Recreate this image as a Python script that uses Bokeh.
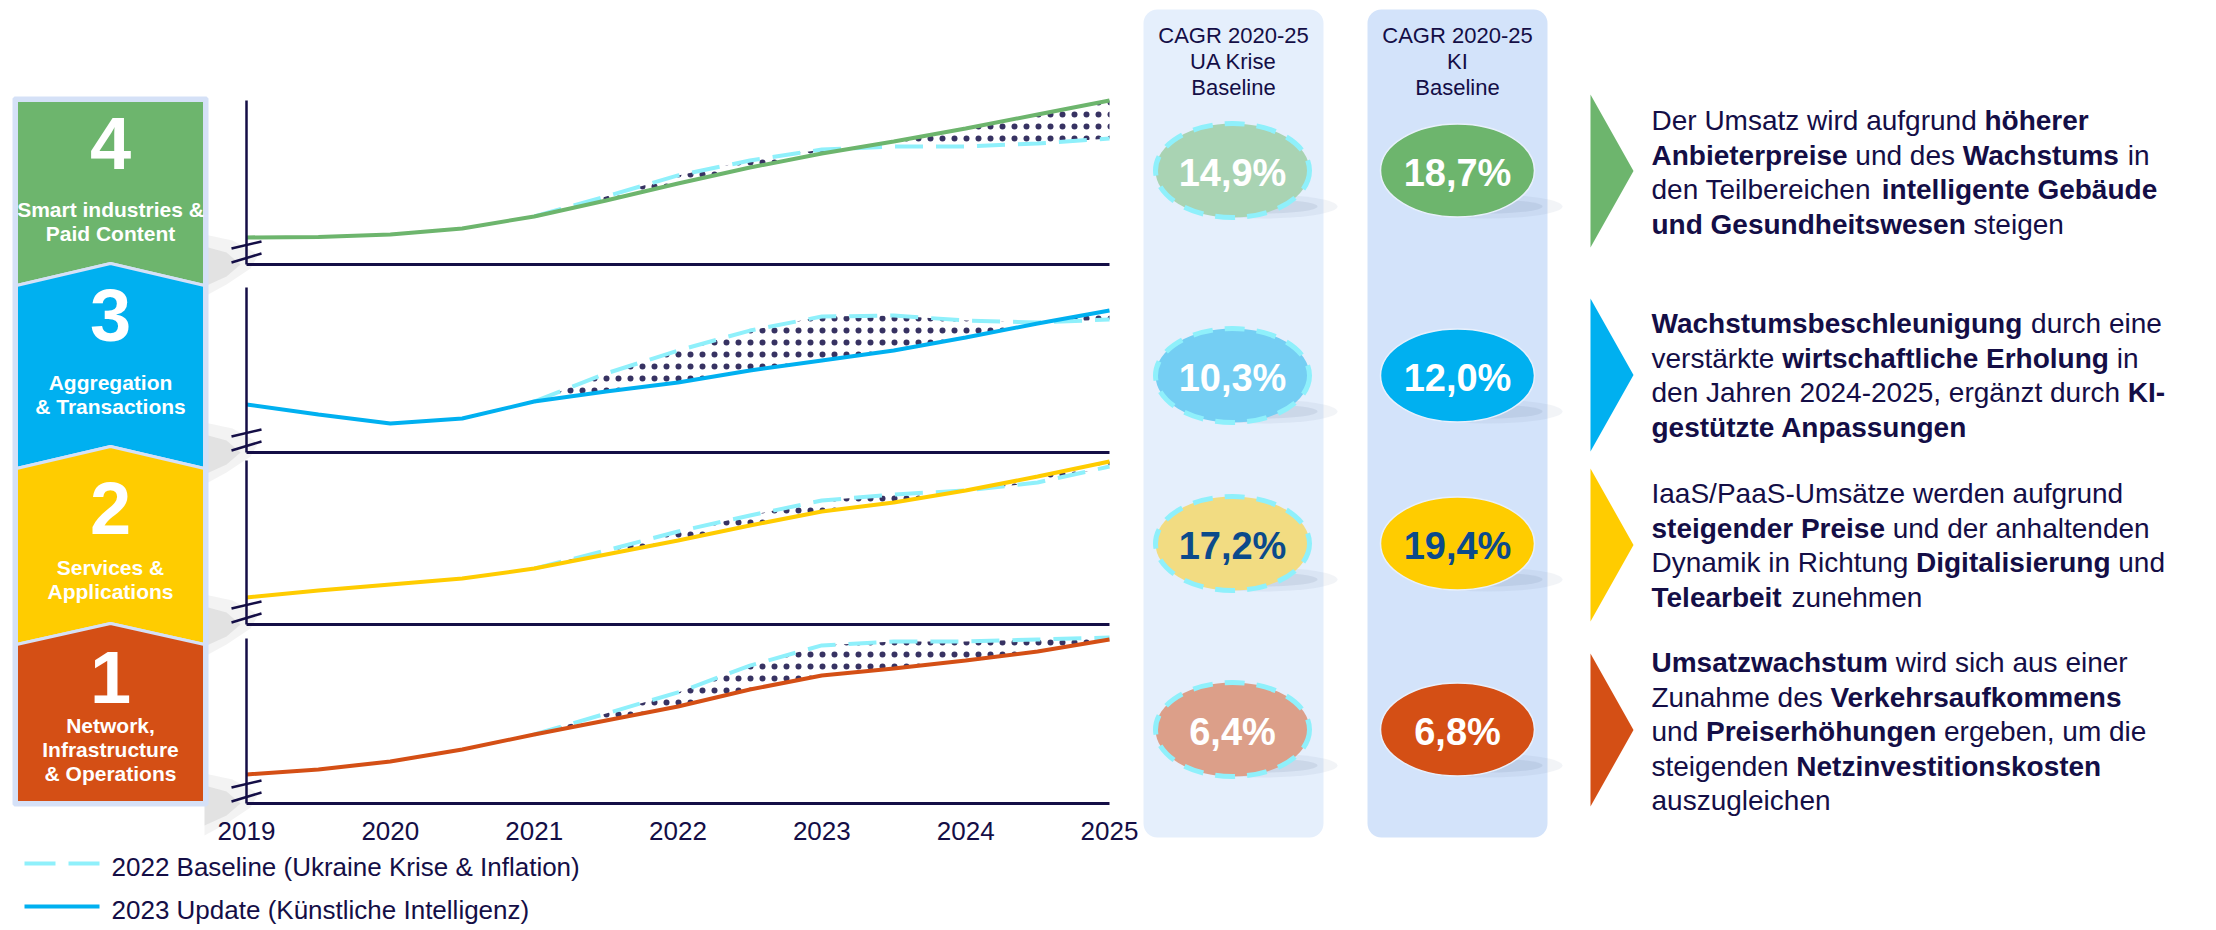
from bokeh.plotting import figure
from bokeh.models import Range1d, ColumnDataSource
from bokeh.core.properties import value
from bokeh.embed import file_html
from bokeh.resources import INLINE

# ---------------- data ----------------
years = [2019, 2019.5, 2020, 2020.5, 2021, 2021.5, 2022, 2022.5, 2023, 2023.5, 2024, 2024.5, 2025]
baseline_years = [2021, 2021.5, 2022, 2022.5, 2023, 2023.5, 2024, 2024.5, 2025]
tick_years = [2019, 2020, 2021, 2022, 2023, 2024, 2025]
tick_labels = ["2019", "2020", "2021", "2022", "2023", "2024", "2025"]

# relative revenue level within each segment panel (0 = panel floor, 100 = panel top)
update_4 = [16.5, 16.8, 18.3, 22.0, 29.3, 39.0, 49.4, 59.1, 67.7, 75.0, 82.9, 91.5, 100.0]
baseline_4 = [29.3, 41.5, 54.3, 63.4, 70.1, 72.0, 72.0, 73.8, 76.8]
update_3 = [29.1, 23.0, 17.6, 20.6, 30.9, 37.0, 42.4, 49.7, 55.8, 61.8, 69.7, 78.2, 86.1]
baseline_3 = [30.9, 47.9, 61.8, 73.9, 82.4, 83.0, 80.0, 78.8, 80.6]
update_2 = [16.5, 20.7, 24.4, 28.0, 34.1, 42.7, 51.2, 60.4, 68.9, 74.4, 81.7, 90.2, 99.4]
baseline_2 = [34.1, 45.1, 56.7, 66.5, 75.6, 79.3, 81.7, 86.6, 96.3]
update_1 = [17.6, 20.6, 25.5, 32.7, 41.8, 50.3, 58.8, 69.1, 77.6, 81.8, 86.7, 92.1, 99.4]
baseline_1 = [41.8, 54.5, 67.3, 83.6, 95.8, 98.2, 98.2, 99.4, 100.6]

segment_numbers = ["4", "3", "2", "1"]
segment_names = [["Smart industries &", "Paid Content"],
                 ["Aggregation", "& Transactions"],
                 ["Services &", "Applications"],
                 ["Network,", "Infrastructure", "& Operations"]]
cagr_ua = ["14,9%", "10,3%", "17,2%", "6,4%"]
cagr_ki = ["18,7%", "12,0%", "19,4%", "6,8%"]
header_ua = ["CAGR 2020-25", "UA Krise", "Baseline"]
header_ki = ["CAGR 2020-25", "KI", "Baseline"]
legend_labels = ["2022 Baseline (Ukraine Krise & Inflation)", "2023 Update (Künstliche Intelligenz)"]

texts = [
    ["Der Umsatz wird aufgrund **höherer**",
     "**Anbieterpreise** und des **Wachstums** in",
     "den Teilbereichen **intelligente Gebäude**",
     "**und Gesundheitswesen** steigen"],
    ["**Wachstumsbeschleunigung** durch eine",
     "verstärkte **wirtschaftliche Erholung** in",
     "den Jahren 2024-2025, ergänzt durch **KI-**",
     "**gestützte Anpassungen**"],
    ["IaaS/PaaS-Umsätze werden aufgrund",
     "**steigender Preise** und der anhaltenden",
     "Dynamik in Richtung **Digitalisierung** und",
     "**Telearbeit** zunehmen"],
    ["**Umsatzwachstum** wird sich aus einer",
     "Zunahme des **Verkehrsaufkommens**",
     "und **Preiserhöhungen** ergeben, um die",
     "steigenden **Netzinvestitionskosten**",
     "auszugleichen"],
]

# ---------------- styles ----------------
FONT = value("Liberation Sans")
NAVY = "#140E46"
CYAN = "#8FF0FB"
COLORS = ["#6DB56D", "#00B0F0", "#FFCC00", "#D44F15"]
LIGHT = ["#A9D3B3", "#74CEF3", "#F2DC82", "#DC9F89"]
NUMCOL = ["white", "white", "#0B4A8B", "white"]
DASH = "28 13"

W, H = 2216, 930
p = figure(width=W, height=H, x_range=Range1d(0, W), y_range=Range1d(H, 0),
           output_backend="svg", toolbar_location=None, x_axis_location=None,
           y_axis_location=None, min_border=0)
p.outline_line_color = None
p.background_fill_color = "white"
p.border_fill_color = "white"
p.xgrid.visible = False
p.ygrid.visible = False
p.grid.grid_line_color = None

# ---- text width helpers (Arial / Liberation Sans metrics) ----
REG = {' ': 278, '%': 889, '&': 667, '(': 333, ')': 333, ',': 278, '-': 333, '.': 278, '/': 278,
       'A': 667, 'B': 667, 'C': 722, 'D': 722, 'E': 667, 'F': 611, 'G': 778, 'H': 722, 'I': 278,
       'J': 500, 'K': 667, 'L': 556, 'M': 833, 'N': 722, 'O': 778, 'P': 667, 'Q': 778, 'R': 722,
       'S': 667, 'T': 611, 'U': 722, 'V': 667, 'W': 944, 'X': 667, 'Y': 667, 'Z': 611,
       'a': 556, 'b': 556, 'c': 500, 'd': 556, 'e': 556, 'f': 278, 'g': 556, 'h': 556, 'i': 222,
       'j': 222, 'k': 500, 'l': 222, 'm': 833, 'n': 556, 'o': 556, 'p': 556, 'q': 556, 'r': 333,
       's': 500, 't': 278, 'u': 556, 'v': 500, 'w': 722, 'x': 500, 'y': 500, 'z': 500,
       'ä': 556, 'ö': 556, 'ü': 556}
BLD = {' ': 278, '%': 889, '&': 722, '(': 333, ')': 333, ',': 278, '-': 333, '.': 278, '/': 278,
       'A': 722, 'B': 722, 'C': 722, 'D': 722, 'E': 667, 'F': 611, 'G': 778, 'H': 722, 'I': 278,
       'J': 556, 'K': 722, 'L': 611, 'M': 833, 'N': 722, 'O': 778, 'P': 667, 'Q': 778, 'R': 722,
       'S': 667, 'T': 611, 'U': 722, 'V': 667, 'W': 944, 'X': 667, 'Y': 667, 'Z': 611,
       'a': 556, 'b': 611, 'c': 556, 'd': 611, 'e': 556, 'f': 333, 'g': 611, 'h': 611, 'i': 278,
       'j': 278, 'k': 556, 'l': 278, 'm': 889, 'n': 611, 'o': 611, 'p': 611, 'q': 611, 'r': 389,
       's': 556, 't': 333, 'u': 611, 'v': 556, 'w': 778, 'x': 556, 'y': 556, 'z': 500,
       'ä': 556, 'ö': 611, 'ü': 611}


def tw(s, size, bold):
    t = BLD if bold else REG
    return sum(t.get(c, 556) for c in s) / 1000.0 * size


# ---------------- CAGR columns ----------------
p.quad(left=[1143, 1367], right=[1323, 1547], top=[9, 9], bottom=[837, 837],
       fill_color=["#E5EFFC", "#D3E3FA"], line_color=None, border_radius=14)
hdr_y = [35, 61, 87]
p.text(x=[1233] * 3, y=hdr_y, text=header_ua, text_font=FONT, text_font_size="22px",
       text_color=NAVY, text_align="center", text_baseline="middle")
p.text(x=[1457] * 3, y=hdr_y, text=header_ki, text_font=FONT, text_font_size="22px",
       text_color=NAVY, text_align="center", text_baseline="middle")

row_y = [170, 375, 543, 729]
for cx in (1232, 1457):
    p.ellipse(x=[cx + 30] * 4, y=[r + 36 for r in row_y], width=150, height=24,
              fill_color="#7F90B0", fill_alpha=0.10, line_color=None)
    p.ellipse(x=[cx + 30] * 4, y=[r + 36 for r in row_y], width=110, height=14,
              fill_color="#7F90B0", fill_alpha=0.16, line_color=None)
p.ellipse(x=[1232] * 4, y=row_y, width=154, height=94, fill_color=LIGHT,
          line_color=CYAN, line_width=5, line_dash="20 12")
p.ellipse(x=[1457] * 4, y=row_y, width=154, height=93, fill_color=COLORS,
          line_color="#E8F0FC", line_width=1.5)
p.text(x=[1232] * 4, y=[r + 2 for r in row_y], text=cagr_ua, text_font=FONT,
       text_font_size="38px", text_font_style="bold", text_color=NUMCOL,
       text_align="center", text_baseline="middle")
p.text(x=[1457] * 4, y=[r + 2 for r in row_y], text=cagr_ki, text_font=FONT,
       text_font_size="38px", text_font_style="bold", text_color=NUMCOL,
       text_align="center", text_baseline="middle")

# ---------------- left segment labels ----------------
L, R, C = 16, 204, 110
bounds = [(100, 100), (285, 263), (468, 446), (644, 623), (802, 802)]  # (side, apex)
xs, ys = [], []
for i in range(4):
    (ts, ta), (bs, ba) = bounds[i], bounds[i + 1]
    xs.append([L, C, R, R, C, L])
    ys.append([ts, ta, ts, bs, ba, bs])
panel_bottoms = [264, 452, 624, 803]
sx, sy, sx2, sy2 = [], [], [], []
for b in panel_bottoms:
    sx.append([204, 232, 258, 250, 226, 204])
    sy.append([b - 30, b - 24, b - 10, b + 4, b + 20, b + 32])
    sx2.append([204, 226, 240, 226, 204])
    sy2.append([b - 18, b - 12, b, b + 12, b + 22])
p.patches(xs=sx, ys=sy, fill_color="#9A9A9A", fill_alpha=0.12, line_color=None)
p.patches(xs=sx2, ys=sy2, fill_color="#8A8A8A", fill_alpha=0.16, line_color=None)
p.quad(left=[L - 2], right=[R + 2], top=[98], bottom=[804], fill_color=None,
       line_color="#D5E1F7", line_width=4)
p.patches(xs=xs, ys=ys, fill_color=COLORS, line_color="#D5E1F7", line_width=3)

num_y = [138, 310, 503, 672]
p.text(x=[C] * 4, y=[v + 4 for v in num_y], text=segment_numbers, text_font=FONT,
       text_font_size="74px", text_font_style="bold", text_color="white",
       text_align="center", text_baseline="middle")
name_y0 = [209, 382, 567, 725]
nx, ny, nt = [], [], []
for names, y0 in zip(segment_names, name_y0):
    for k, nm in enumerate(names):
        nx.append(C)
        ny.append(y0 + k * 24)
        nt.append(nm)
p.text(x=nx, y=ny, text=nt, text_font=FONT, text_font_size="21px", text_font_style="bold",
       text_color="white", text_align="center", text_baseline="middle")

# ---------------- line panels ----------------
panels = [(100, 264, update_4, baseline_4, COLORS[0]),
          (287, 452, update_3, baseline_3, COLORS[1]),
          (460, 624, update_2, baseline_2, COLORS[2]),
          (638, 803, update_1, baseline_1, COLORS[3])]
X0, X1 = 246, 1109
subs = []
for top, bot, upd, base, col in panels:
    sub = p.subplot(x_source=Range1d(2019, 2025), y_source=Range1d(0, 100),
                    x_target=Range1d(X0, X1), y_target=Range1d(bot, top))
    subs.append(sub)
    upd_at_base = [u for yr, u in zip(years, upd) if yr >= baseline_years[0]]
    sub.varea(x=baseline_years, y1=upd_at_base, y2=base, fill_color=None, fill_alpha=0,
              hatch_pattern="dot", hatch_color=NAVY, hatch_scale=12, hatch_weight=0.3,
              hatch_alpha=0.85)
    sub.line(x=baseline_years, y=base, line_color=CYAN, line_width=4, line_dash=DASH)
    sub.line(x=years, y=upd, line_color=col, line_width=4)
    # axes
    sub.line(x=[2019, 2019], y=[0, 100], line_color=NAVY, line_width=2.5)
    sub.line(x=[2019, 2025], y=[0, 0], line_color=NAVY, line_width=3)
    # axis break marks (decoration)
    p.segment(x0=[231, 231], y0=[bot - 16, bot - 2], x1=[261, 261], y1=[bot - 23, bot - 11],
              line_color=NAVY, line_width=2.5)

subs[-1].text(x=tick_years, y=[0] * 7, text=tick_labels, y_offset=27, text_font=FONT,
              text_font_size="26px", text_color=NAVY, text_align="center",
              text_baseline="middle")

# ---------------- legend ----------------
p.line(x=[24, 99], y=[863, 863], line_color=CYAN, line_width=4, line_dash="31 13")
p.line(x=[24, 99], y=[906, 906], line_color=COLORS[1], line_width=4)
p.text(x=[111, 111], y=[866, 909], text=legend_labels, text_font=FONT, text_font_size="26px",
       text_color=NAVY, text_align="left", text_baseline="middle")

# ---------------- right side arrows and texts ----------------
arrow_spans = [(94, 247), (298, 451), (468, 621), (653, 806)]
p.patches(xs=[[1590, 1633, 1590]] * 4,
          ys=[[a, (a + b) / 2, b] for a, b in arrow_spans],
          fill_color=COLORS, line_color=None)

text_y0 = [120, 323, 493, 662]
SIZE = 28
X_TXT = 1651
reg = dict(x=[], y=[], text=[])
bld = dict(x=[], y=[], text=[])
for lines, y0 in zip(texts, text_y0):
    for k, line in enumerate(lines):
        y = y0 + k * 34.5
        cur = X_TXT
        for i, part in enumerate(line.split("**")):
            isb = (i % 2 == 1)
            lead = len(part) - len(part.lstrip(" "))
            s = part.strip(" ")
            if s:
                d = bld if isb else reg
                d["x"].append(cur + tw(" " * lead, SIZE, isb))
                d["y"].append(y)
                d["text"].append(s)
            cur += tw(part, SIZE, isb)
p.text(x="x", y="y", text="text", source=ColumnDataSource(reg), text_font=FONT,
       text_font_size=f"{SIZE}px", text_color=NAVY, text_align="left", text_baseline="middle")
p.text(x="x", y="y", text="text", source=ColumnDataSource(bld), text_font=FONT,
       text_font_size=f"{SIZE}px", text_font_style="bold", text_color=NAVY,
       text_align="left", text_baseline="middle")

open("out.html", "w").write(file_html(p, INLINE))
